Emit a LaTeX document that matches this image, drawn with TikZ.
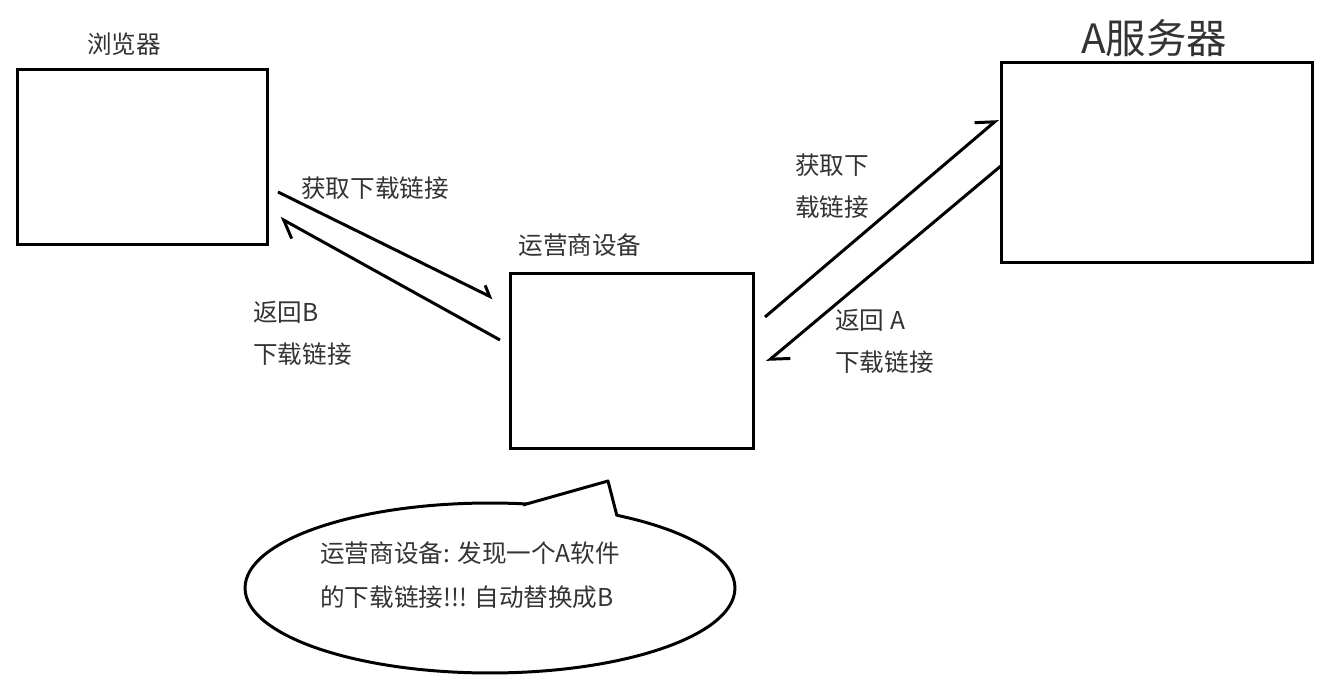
\documentclass[tikz,border=0pt]{standalone}
\usepackage{fontspec}
\newfontfamily\cjk{Noto Sans CJK SC}
\usetikzlibrary{arrows.meta,shapes.geometric}

\begin{document}
\begin{tikzpicture}[x=0.02cm,y=-0.02cm,font=\cjk\fontsize{14}{24}\selectfont,
  box/.style={draw,line width=1.7pt,inner sep=0pt},
  lbl/.style={text=black!80,align=left,inner sep=0pt},
  arr/.style={-{Straight Barb[left,length=9pt,width=14pt]},line width=1.7pt}]
\useasboundingbox (0,0) rectangle (1332,689);
% the three boxes
\node[box,minimum width=5.02cm,minimum height=3.52cm] (browser) at (142.5,157) {};
\node[box,minimum width=4.88cm,minimum height=3.52cm] (isp)     at (632,361)   {};
\node[box,minimum width=6.24cm,minimum height=4.02cm] (server)  at (1157,162.5) {};
\node[lbl] (browserlbl) at (124,44)  {浏览器};
\node[lbl] (isplbl)     at (580,245) {运营商设备};
\node[lbl,font=\cjk\fontsize{23}{26}\selectfont] (serverlbl) at (1154,38) {A服务器};
% arrow ends
\coordinate (getL1) at (278,192);  \coordinate (getL2) at (493,298);
\coordinate (retL1) at (500,340);  \coordinate (retL2) at (280,218);
\coordinate (getR1) at (765,317);  \coordinate (getR2) at (998,119);
\coordinate (retR1) at (1002,165); \coordinate (retR2) at (767,362);
\draw[arr,-{Straight Barb[left,length=5pt,width=9pt]}] (getL1) -- (getL2);
\draw[arr] (retL1) -- (retL2);
\draw[arr] (getR1) -- (getR2);
\draw[arr] (retR1) -- (retR2);
\node[lbl] (getLlbl) at (375,188) {获取下载链接};
\node[lbl,anchor=west] (retLlbl) at (253,333) {返回B\\下载链接};
\node[lbl,anchor=west] (getRlbl) at (795,186) {获取下\\载链接};
\node[lbl,anchor=west] (retRlbl) at (835,341) {返回 A\\下载链接};
% speech bubble
\node[ellipse,draw,line width=1.7pt,minimum width=9.8cm,minimum height=3.4cm,inner sep=0pt] (bubble) at (490,588) {};
\coordinate (tailA) at (523,505); \coordinate (tailtip) at (608,481); \coordinate (tailB) at (617,516);
\fill[white] (tailA) -- (tailtip) -- (tailB) -- (570,540) -- cycle;
\draw[line width=1.7pt,line join=round] (tailA) -- (tailtip) -- (tailB);
\node[lbl,anchor=west,font=\cjk\fontsize{14}{25}\selectfont] (bubbletxt) at (320,575) {运营商设备: 发现一个A软件\\的下载链接!!! 自动替换成B};
\end{tikzpicture}
\end{document}
